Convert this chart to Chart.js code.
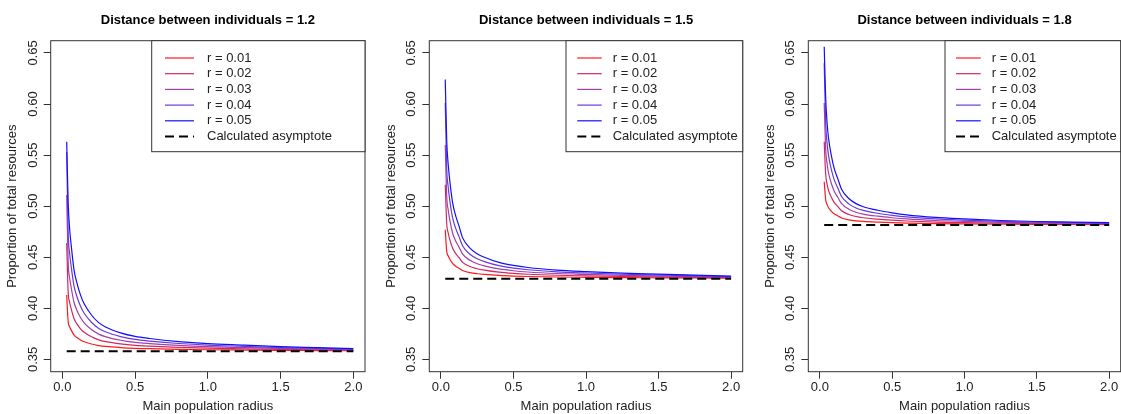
<!DOCTYPE html>
<html>
<head>
<meta charset="utf-8">
<script src="https://cdn.jsdelivr.net/npm/chart.js@4.4.1/dist/chart.umd.min.js"></script>
<style>
  html, body { margin: 0; padding: 0; background: #fff; }
  #wrap { position: relative; width: 1121px; height: 414px; overflow: hidden; }
  canvas { position: absolute; top: 0; }
</style>
</head>
<body>
<div id="wrap">
  <canvas id="panel12" width="380" height="414" style="left:0px"></canvas>
  <canvas id="panel15" width="380" height="414" style="left:380px"></canvas>
  <canvas id="panel18" width="361" height="414" style="left:760px"></canvas>
</div>
<script>
// main population radius, shared by every curve
var radius = [0.03, 0.04, 0.05, 0.06, 0.08, 0.10, 0.125, 0.15, 0.2, 0.25, 0.3, 0.4, 0.5, 0.6, 0.8, 1.0, 1.25, 1.5, 1.75, 2.0];
var rValues = ['0.01', '0.02', '0.03', '0.04', '0.05'];
var distances = ['1.2', '1.5', '1.8'];
var asymptotes = [0.358, 0.429, 0.4815];
var xTicks = [0, 0.5, 1, 1.5, 2];
var yTicks = [0.35, 0.40, 0.45, 0.50, 0.55, 0.60, 0.65];

// proportion of total resources, one row per r value
var prop12 = [
  [0.413, 0.387, 0.382, 0.379, 0.374, 0.3714, 0.369, 0.3673, 0.3651, 0.3636, 0.3627, 0.3616, 0.3609, 0.3605, 0.3599, 0.3595, 0.3592, 0.3589, 0.3587, 0.3585],
  [0.464, 0.416, 0.406, 0.400, 0.390, 0.3848, 0.380, 0.3766, 0.3722, 0.3692, 0.3674, 0.3652, 0.3638, 0.3630, 0.3618, 0.3610, 0.3604, 0.3598, 0.3594, 0.3590],
  [0.511, 0.445, 0.430, 0.421, 0.406, 0.3982, 0.391, 0.3859, 0.3793, 0.3748, 0.3721, 0.3688, 0.3667, 0.3655, 0.3637, 0.3625, 0.3616, 0.3607, 0.3601, 0.3595],
  [0.553, 0.474, 0.454, 0.442, 0.422, 0.4116, 0.402, 0.3952, 0.3864, 0.3804, 0.3768, 0.3724, 0.3696, 0.3680, 0.3656, 0.3640, 0.3628, 0.3616, 0.3608, 0.3600],
  [0.563, 0.503, 0.478, 0.463, 0.438, 0.425, 0.413, 0.4045, 0.3935, 0.386, 0.3815, 0.376, 0.3725, 0.3705, 0.3675, 0.3655, 0.364, 0.3625, 0.3615, 0.3605]
];
var prop15 = [
  [0.477, 0.456, 0.4515, 0.4485, 0.444, 0.4415, 0.4393, 0.437, 0.435, 0.4339, 0.4332, 0.4322, 0.4316, 0.4312, 0.4307, 0.4304, 0.4301, 0.4299, 0.4297, 0.4295],
  [0.521, 0.483, 0.474, 0.468, 0.459, 0.454, 0.4496, 0.445, 0.441, 0.4388, 0.4374, 0.4354, 0.4342, 0.4334, 0.4324, 0.4318, 0.4312, 0.4308, 0.4304, 0.430],
  [0.560, 0.510, 0.4965, 0.4875, 0.474, 0.4665, 0.4599, 0.453, 0.447, 0.4437, 0.4416, 0.4386, 0.4368, 0.4356, 0.4341, 0.4332, 0.4323, 0.4317, 0.4311, 0.4305],
  [0.601, 0.537, 0.519, 0.507, 0.489, 0.479, 0.4702, 0.461, 0.453, 0.4486, 0.4458, 0.4418, 0.4394, 0.4378, 0.4358, 0.4346, 0.4334, 0.4326, 0.4318, 0.431],
  [0.624, 0.564, 0.5415, 0.5265, 0.504, 0.4915, 0.4805, 0.469, 0.459, 0.4535, 0.45, 0.445, 0.442, 0.44, 0.4375, 0.436, 0.4345, 0.4335, 0.4325, 0.4315]
];
var prop18 = [
  [0.524, 0.5065, 0.5015, 0.4985, 0.495, 0.4925, 0.4905, 0.4885, 0.4867, 0.4857, 0.4851, 0.4844, 0.4839, 0.4835, 0.483, 0.4827, 0.4824, 0.4822, 0.4821, 0.482],
  [0.563, 0.5315, 0.5215, 0.5155, 0.5085, 0.5035, 0.4995, 0.4955, 0.4919, 0.4899, 0.4887, 0.4873, 0.4863, 0.4855, 0.4845, 0.4839, 0.4833, 0.4829, 0.4827, 0.4825],
  [0.601, 0.5565, 0.5415, 0.5325, 0.522, 0.5145, 0.5085, 0.5025, 0.4971, 0.4941, 0.4923, 0.4902, 0.4887, 0.4875, 0.486, 0.4851, 0.4842, 0.4836, 0.4833, 0.483],
  [0.640, 0.5815, 0.5615, 0.5495, 0.5355, 0.5255, 0.5175, 0.5095, 0.5023, 0.4983, 0.4959, 0.4931, 0.4911, 0.4895, 0.4875, 0.4863, 0.4851, 0.4843, 0.4839, 0.4835],
  [0.656, 0.6065, 0.5815, 0.5665, 0.549, 0.5365, 0.5265, 0.5165, 0.5075, 0.5025, 0.4995, 0.496, 0.4935, 0.4915, 0.489, 0.4875, 0.486, 0.485, 0.4845, 0.484]
];

// red -> blue ramp, one colour per r
var curveColours = ['#ff1a1a', '#d02860', '#a040a8', '#6a3ad8', '#1010ff'];
var FONT = '"Liberation Sans", Arial, sans-serif';
var INK = '#222';

// plot frame plus an R style legend box in the top right corner
var boxAndLegend = {
  id: 'boxAndLegend',
  afterDatasetsDraw: function(chart, args, opts) {
    var ctx = chart.ctx, a = chart.chartArea;
    ctx.save();
    ctx.strokeStyle = '#333';
    ctx.lineWidth = 1;
    ctx.strokeRect(a.left, a.top, a.right - a.left, a.bottom - a.top);

    var lx = a.right - opts.width, ly = a.top;
    ctx.fillStyle = '#fff';
    ctx.fillRect(lx, ly, opts.width, opts.height);
    ctx.strokeRect(lx, ly, opts.width, opts.height);
    ctx.font = '13px ' + FONT;
    ctx.textBaseline = 'middle';
    chart.data.datasets.forEach(function(ds, i) {
      var y = ly + 17.3 + i * 15.7;
      ctx.strokeStyle = ds.borderColor;
      ctx.lineWidth = ds.borderWidth;
      ctx.setLineDash(ds.borderDash || []);
      ctx.beginPath();
      ctx.moveTo(lx + opts.lineFrom, y);
      ctx.lineTo(lx + opts.lineTo, y);
      ctx.stroke();
      ctx.setLineDash([]);
      ctx.fillStyle = INK;
      ctx.fillText(ds.label, lx + opts.textAt, y);
    });
    ctx.restore();
  }
};

function makePanel(id, k, prop, layout) {
  var datasets = prop.map(function(vals, i) {
    return {
      label: 'r = ' + rValues[i],
      data: radius.map(function(x, j) { return {x: x, y: vals[j]}; }),
      borderColor: curveColours[i],
      borderWidth: 1.2,
      pointRadius: 0,
      cubicInterpolationMode: 'monotone',
      order: 5 - i
    };
  });
  datasets.push({
    label: 'Calculated asymptote',
    data: [{x: radius[0], y: asymptotes[k]}, {x: radius[radius.length - 1], y: asymptotes[k]}],
    borderColor: '#000',
    borderWidth: 2,
    borderDash: [9, 5],
    pointRadius: 0,
    order: 0
  });

  return new Chart(document.getElementById(id), {
    type: 'line',
    data: {datasets: datasets},
    plugins: [boxAndLegend],
    options: {
      responsive: false,
      animation: false,
      devicePixelRatio: 1,
      layout: {padding: {left: 0, right: layout.padRight, top: 0, bottom: 0}},
      plugins: {
        legend: {display: false},
        tooltip: {enabled: false},
        title: {
          display: true,
          fullSize: false,
          text: 'Distance between individuals = ' + distances[k],
          color: '#000',
          font: {family: FONT, size: 13, weight: 'bold'},
          padding: {top: 12.7, bottom: 12.4}
        },
        boxAndLegend: layout.legend
      },
      scales: {
        x: {
          type: 'linear',
          min: -0.08,
          max: 2.08,
          afterBuildTicks: function(s) { s.ticks = xTicks.map(function(v) { return {value: v}; }); },
          afterFit: function(s) { s.height = 42.3; },
          border: {display: false},
          grid: {drawOnChartArea: false, drawTicks: true, tickLength: 7, color: '#333'},
          ticks: {
            autoSkip: false, maxRotation: 0, padding: 1, color: INK,
            font: {family: FONT, size: 13},
            callback: function(v) { return v.toFixed(1); }
          },
          title: {
            display: true, text: 'Main population radius', color: INK,
            font: {family: FONT, size: 13}, padding: {top: 0, bottom: 0}
          }
        },
        y: {
          type: 'linear',
          min: 0.338,
          max: 0.662,
          afterBuildTicks: function(s) { s.ticks = yTicks.map(function(v) { return {value: v}; }); },
          afterFit: function(s) { s.width = layout.yWidth; },
          border: {display: false},
          grid: {drawOnChartArea: false, drawTicks: true, tickLength: 7, color: '#333'},
          ticks: {
            autoSkip: false, minRotation: 90, maxRotation: 90, crossAlign: 'center', padding: -2, color: INK,
            font: {family: FONT, size: 13},
            callback: function(v) { return v.toFixed(2); }
          },
          title: {
            display: true, text: 'Proportion of total resources', color: INK,
            font: {family: FONT, size: 13}, padding: {top: layout.yWidth - 45.8, bottom: 0}
          }
        }
      }
    }
  });
}

makePanel('panel12', 0, prop12, {
  yWidth: 50.7, padRight: 15,
  legend: {width: 213.3, height: 111, lineFrom: 13.3, lineTo: 42.3, textAt: 55.3}
});
makePanel('panel15', 1, prop15, {
  yWidth: 49.3, padRight: 17.3,
  legend: {width: 176.7, height: 111, lineFrom: 11.3, lineTo: 35.7, textAt: 46.7}
});
makePanel('panel18', 2, prop18, {
  yWidth: 48.3, padRight: 0.3,
  legend: {width: 175.7, height: 111, lineFrom: 11, lineTo: 35.7, textAt: 46.7}
});
</script>
</body>
</html>
